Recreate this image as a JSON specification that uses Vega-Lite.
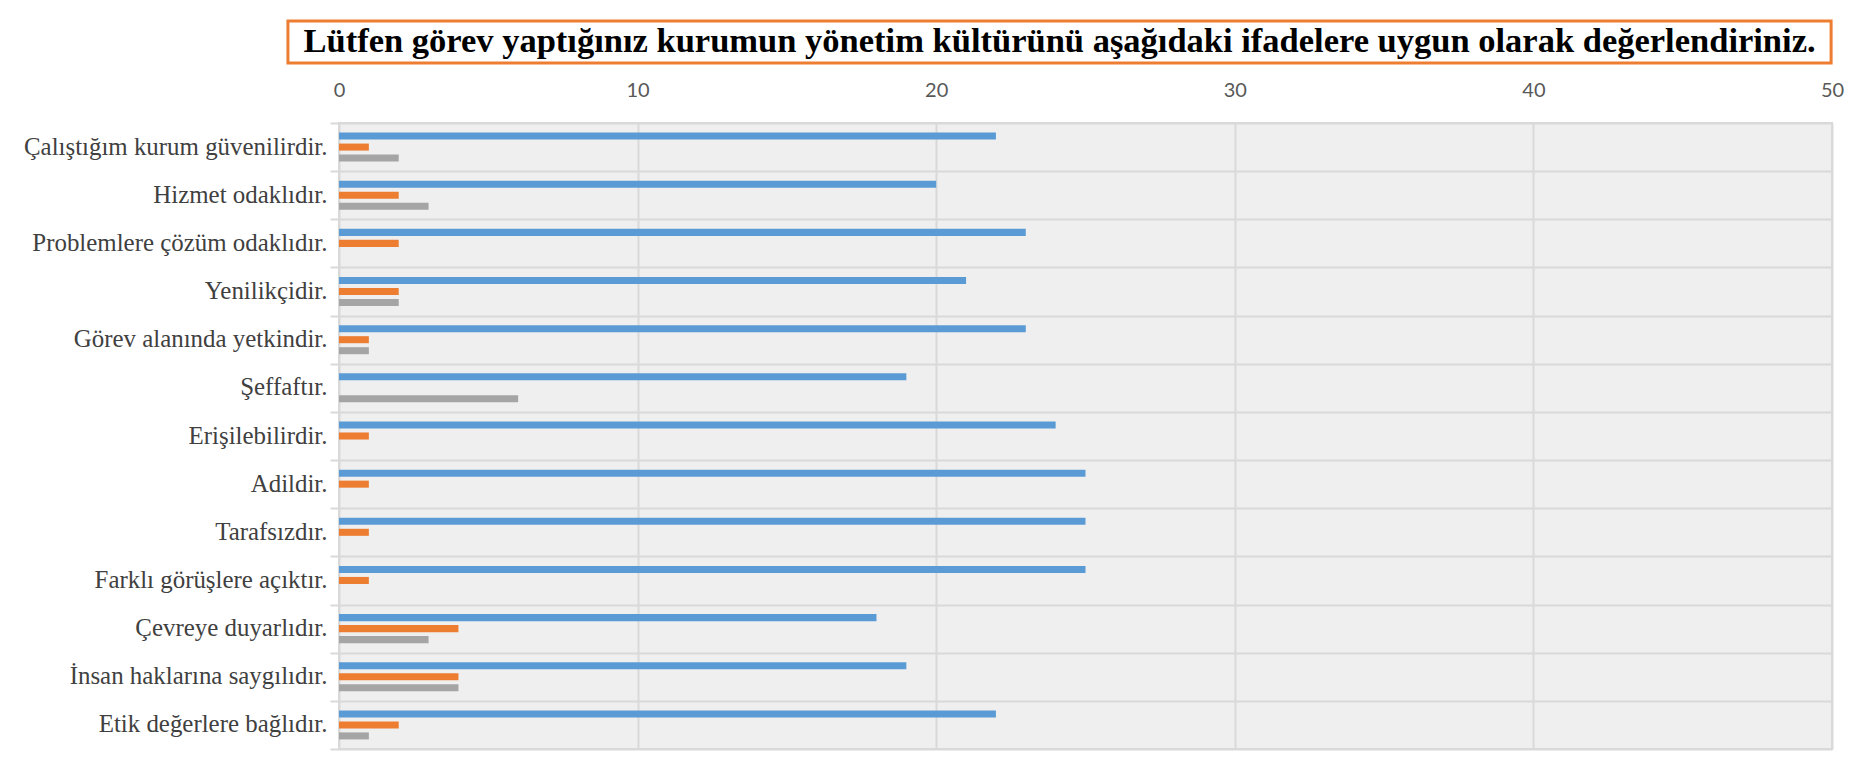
{
  "$schema": "https://vega.github.io/schema/vega-lite/v6.json",
  "background": "white",
  "padding": {"left": 22, "top": 19, "right": 28, "bottom": 10},
  "autosize": {"type": "pad"},
  "spacing": 14,
  "vconcat": [
    {
      "width": 1493,
      "height": 42,
      "view": {"stroke": null, "fill": null},
      "data": {"values": [{"t": "Lütfen görev yaptığınız kurumun yönetim kültürünü aşağıdaki ifadelere uygun olarak değerlendiriniz."}]},
      "layer": [
        {
          "mark": {"type": "rect", "fill": "white", "stroke": "#ed7d31", "strokeWidth": 3, "clip": false},
          "encoding": {
            "x": {"datum": -1.71, "type": "quantitative", "scale": {"domain": [0, 50], "nice": false}, "axis": null},
            "x2": {"datum": 49.97}
          }
        },
        {
          "mark": {"type": "text", "font": "Liberation Serif", "fontWeight": "bold", "fontSize": 34.5, "color": "#000000", "baseline": "middle", "align": "center", "clip": false},
          "encoding": {
            "text": {"field": "t", "type": "nominal"},
            "x": {"datum": 24.13, "type": "quantitative"}
          }
        }
      ]
    },
    {
      "width": 1493,
      "height": 626,
      "view": {"stroke": "#d9d9d9", "strokeWidth": 2, "fill": "#efefef"},
      "data": {
        "values": [
          {"madde": "Çalıştığım kurum güvenilirdir.", "seri": "Seri 1", "deger": 22},
          {"madde": "Çalıştığım kurum güvenilirdir.", "seri": "Seri 2", "deger": 1},
          {"madde": "Çalıştığım kurum güvenilirdir.", "seri": "Seri 3", "deger": 2},
          {"madde": "Hizmet odaklıdır.", "seri": "Seri 1", "deger": 20},
          {"madde": "Hizmet odaklıdır.", "seri": "Seri 2", "deger": 2},
          {"madde": "Hizmet odaklıdır.", "seri": "Seri 3", "deger": 3},
          {"madde": "Problemlere çözüm odaklıdır.", "seri": "Seri 1", "deger": 23},
          {"madde": "Problemlere çözüm odaklıdır.", "seri": "Seri 2", "deger": 2},
          {"madde": "Problemlere çözüm odaklıdır.", "seri": "Seri 3", "deger": 0},
          {"madde": "Yenilikçidir.", "seri": "Seri 1", "deger": 21},
          {"madde": "Yenilikçidir.", "seri": "Seri 2", "deger": 2},
          {"madde": "Yenilikçidir.", "seri": "Seri 3", "deger": 2},
          {"madde": "Görev alanında yetkindir.", "seri": "Seri 1", "deger": 23},
          {"madde": "Görev alanında yetkindir.", "seri": "Seri 2", "deger": 1},
          {"madde": "Görev alanında yetkindir.", "seri": "Seri 3", "deger": 1},
          {"madde": "Şeffaftır.", "seri": "Seri 1", "deger": 19},
          {"madde": "Şeffaftır.", "seri": "Seri 2", "deger": 0},
          {"madde": "Şeffaftır.", "seri": "Seri 3", "deger": 6},
          {"madde": "Erişilebilirdir.", "seri": "Seri 1", "deger": 24},
          {"madde": "Erişilebilirdir.", "seri": "Seri 2", "deger": 1},
          {"madde": "Erişilebilirdir.", "seri": "Seri 3", "deger": 0},
          {"madde": "Adildir.", "seri": "Seri 1", "deger": 25},
          {"madde": "Adildir.", "seri": "Seri 2", "deger": 1},
          {"madde": "Adildir.", "seri": "Seri 3", "deger": 0},
          {"madde": "Tarafsızdır.", "seri": "Seri 1", "deger": 25},
          {"madde": "Tarafsızdır.", "seri": "Seri 2", "deger": 1},
          {"madde": "Tarafsızdır.", "seri": "Seri 3", "deger": 0},
          {"madde": "Farklı görüşlere açıktır.", "seri": "Seri 1", "deger": 25},
          {"madde": "Farklı görüşlere açıktır.", "seri": "Seri 2", "deger": 1},
          {"madde": "Farklı görüşlere açıktır.", "seri": "Seri 3", "deger": 0},
          {"madde": "Çevreye duyarlıdır.", "seri": "Seri 1", "deger": 18},
          {"madde": "Çevreye duyarlıdır.", "seri": "Seri 2", "deger": 4},
          {"madde": "Çevreye duyarlıdır.", "seri": "Seri 3", "deger": 3},
          {"madde": "İnsan haklarına saygılıdır.", "seri": "Seri 1", "deger": 19},
          {"madde": "İnsan haklarına saygılıdır.", "seri": "Seri 2", "deger": 4},
          {"madde": "İnsan haklarına saygılıdır.", "seri": "Seri 3", "deger": 4},
          {"madde": "Etik değerlere bağlıdır.", "seri": "Seri 1", "deger": 22},
          {"madde": "Etik değerlere bağlıdır.", "seri": "Seri 2", "deger": 2},
          {"madde": "Etik değerlere bağlıdır.", "seri": "Seri 3", "deger": 1}
        ]
      },
      "mark": {"type": "bar"},
      "encoding": {
        "y": {
          "field": "madde",
          "type": "nominal",
          "sort": null,
          "scale": {"paddingInner": 0, "paddingOuter": 0},
          "axis": {
            "title": null,
            "tickBand": "extent",
            "grid": true,
            "gridColor": "#d9d9d9",
            "gridWidth": 2,
            "ticks": true,
            "tickSize": 9,
            "tickColor": "#d9d9d9",
            "tickWidth": 2,
            "domain": false,
            "labelFont": "Liberation Serif",
            "labelFontSize": 24.9,
            "labelColor": "#404040",
            "labelPadding": 3,
            "labelLimit": 0
          }
        },
        "yOffset": {
          "field": "seri",
          "type": "nominal",
          "sort": ["Seri 1", "Seri 2", "Seri 3"],
          "scale": {"paddingInner": 0.36, "paddingOuter": 0.87}
        },
        "x": {
          "field": "deger",
          "type": "quantitative",
          "scale": {"domain": [0, 50], "nice": false},
          "axis": {
            "orient": "top",
            "title": null,
            "values": [0, 10, 20, 30, 40, 50],
            "grid": true,
            "gridColor": "#d9d9d9",
            "gridWidth": 2,
            "ticks": false,
            "domain": false,
            "labelFont": "Lato",
            "labelFontSize": 20,
            "labelColor": "#595959",
            "labelPadding": 23,
            "labelFlush": false
          }
        },
        "color": {
          "field": "seri",
          "type": "nominal",
          "scale": {"domain": ["Seri 1", "Seri 2", "Seri 3"], "range": ["#5b9bd5", "#ed7d31", "#a5a5a5"]},
          "legend": null
        }
      }
    }
  ]
}
